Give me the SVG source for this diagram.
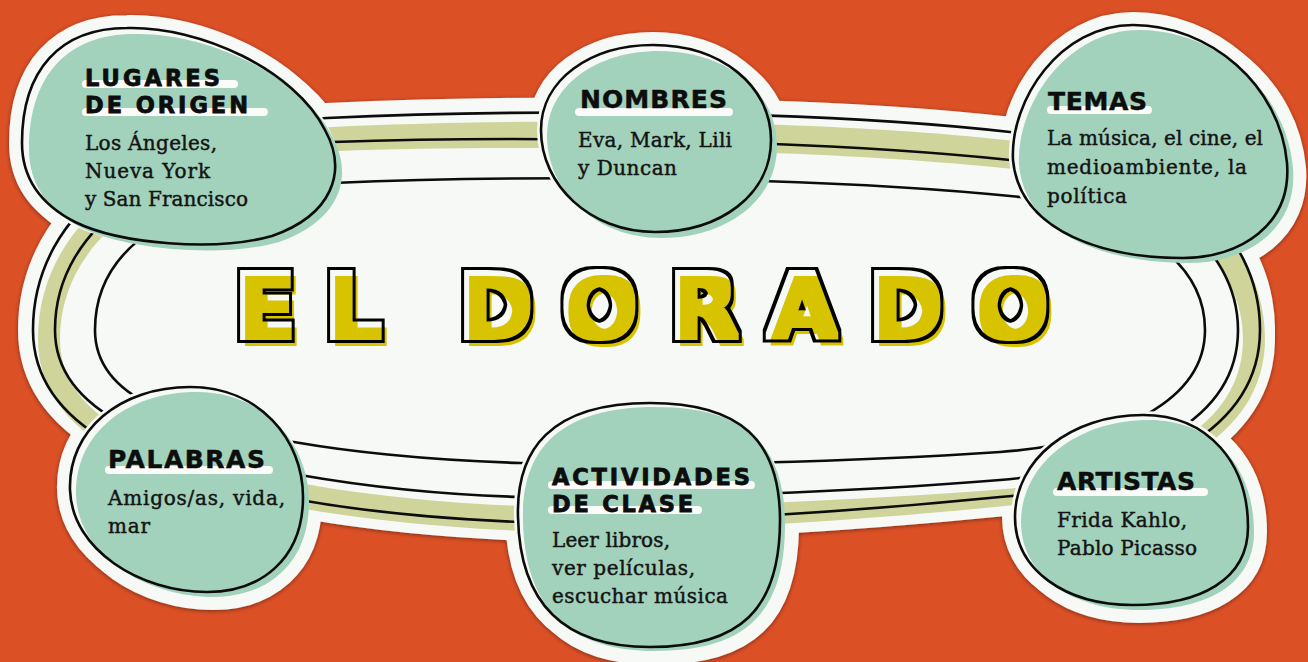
<svg xmlns="http://www.w3.org/2000/svg" width="1308" height="662" viewBox="0 0 1308 662">
<style>
.hdr{font-family:"DejaVu Sans",sans-serif;font-weight:bold;font-size:25px;fill:#0d0d0d;stroke:#0d0d0d;stroke-width:0.5}
.hdr2{font-size:22.5px;stroke-width:0.8}
.body{font-family:"DejaVu Serif",serif;font-size:20px;fill:#141414;stroke:#141414;stroke-width:0.45}
.bar{stroke:#fbfcfa;stroke-width:8;stroke-linecap:round;fill:none}
.green{fill:#A2D2BC}
.outl{fill:none;stroke:#0c0c0c;stroke-width:2.6}
.halo{fill:#F7F9F6;stroke:#F7F9F6;stroke-width:26;stroke-linejoin:round}
.halo2{fill:#F7F9F6;stroke:#F7F9F6;stroke-width:8}
.line{fill:none;stroke:#0c0c0c;stroke-width:2.6}
.title{font-family:"DejaVu Sans",sans-serif;font-weight:bold;font-size:88px;fill:#000}
</style>
<defs>
<path id="O1" d="M 33,330 C 33,210 150,125 327,118 C 500,110 800,108 1010,132 C 1170,150 1260,230 1260,330 C 1260,430 1150,485 1000,497 C 850,512 650,525 520,522 C 420,518 340,507 300,500 C 150,475 33,430 33,330 Z"/>
<path id="O2" d="M 55,330 C 55,225 165,150 333,142 C 500,136 800,138 1010,160 C 1150,175 1238,245 1238,330 C 1238,420 1140,468 1000,480 C 850,492 650,500 520,497 C 420,494 340,482 300,475 C 160,450 55,415 55,330 Z"/>
<path id="O3" d="M 95,330 C 95,245 180,190 333,183 C 500,176 800,174 1020,197 C 1130,210 1205,260 1205,330 C 1205,400 1120,443 1000,452 C 850,462 650,467 520,463 C 420,460 340,450 300,443 C 180,425 95,400 95,330 Z"/>
<path id="B1" d="M 22,143 C 22,70 60,28 127,28 C 200,26 295,70 325,130 C 348,172 332,215 272,236 C 215,252 120,244 75,222 C 40,204 22,178 22,143 Z"/>
<path id="B2" d="M 541,130 C 541,80 590,45 653,45 C 720,45 771,85 771,140 C 771,195 720,232 655,232 C 590,232 541,185 541,130 Z"/>
<path id="B3" d="M 1013,160 C 1010,100 1060,25 1133,25 C 1210,25 1280,85 1287,163 C 1292,225 1240,258 1183,258 C 1110,258 1020,235 1013,160 Z"/>
<path id="B4" d="M 70,490 C 68,430 120,387 190,387 C 260,387 303,440 303,497 C 303,560 260,592 207,592 C 140,592 72,550 70,490 Z"/>
<path id="B5" d="M 518,517 C 516,450 550,403 650,403 C 740,403 780,440 780,520 C 780,610 740,647 650,647 C 570,647 520,610 518,517 Z"/>
<path id="B6" d="M 1015,517 C 1015,460 1070,415 1143,415 C 1210,415 1248,465 1248,527 C 1248,580 1200,605 1133,605 C 1065,605 1015,570 1015,517 Z"/>
<filter id="sh" x="-5%" y="-5%" width="110%" height="110%">
<feDropShadow dx="0" dy="1" stdDeviation="2" flood-color="#000" flood-opacity="0.45"/>
</filter>
<filter id="tf" x="-5%" y="-30%" width="110%" height="160%" color-interpolation-filters="sRGB">
<feMorphology in="SourceAlpha" operator="dilate" radius="3" result="a"/>
<feMorphology in="SourceAlpha" operator="dilate" radius="6" result="b"/>
<feComposite in="b" in2="a" operator="out" result="ring"/>
<feFlood flood-color="#000"/>
<feComposite in2="ring" operator="in" result="bring"/>
<feOffset in="a" dx="5" dy="6" result="ao"/>
<feFlood flood-color="#D7C300"/>
<feComposite in2="ao" operator="in" result="yel"/>
<feMerge><feMergeNode in="yel"/><feMergeNode in="bring"/></feMerge>
</filter>
</defs>

<rect width="1308" height="662" fill="#DC5026"/>

<g id="base" filter="url(#sh)">
<use href="#O1" fill="#F7F9F6" stroke="#F7F9F6" stroke-width="30"/>
<use href="#O1" transform="translate(5,9)" fill="#F7F9F6" stroke="#F7F9F6" stroke-width="20"/>
<use href="#B1" class="halo"/><use href="#B1" class="halo" transform="translate(6,5)"/>
<use href="#B2" class="halo"/><use href="#B2" class="halo" transform="translate(6,5)"/>
<use href="#B3" class="halo"/><use href="#B3" class="halo" transform="translate(6,5)"/>
<use href="#B4" class="halo"/><use href="#B4" class="halo" transform="translate(6,5)"/>
<use href="#B5" class="halo"/><use href="#B5" class="halo" transform="translate(6,5)"/>
<use href="#B6" class="halo"/><use href="#B6" class="halo" transform="translate(6,5)"/>
</g>

<g id="connectors">
<path transform="translate(5,9)" fill="#CFD49A" fill-rule="evenodd" d="M 33,330 C 33,210 150,125 327,118 C 500,110 800,108 1010,132 C 1170,150 1260,230 1260,330 C 1260,430 1150,485 1000,497 C 850,512 650,525 520,522 C 420,518 340,507 300,500 C 150,475 33,430 33,330 Z M 55,330 C 55,225 165,150 333,142 C 500,136 800,138 1010,160 C 1150,175 1238,245 1238,330 C 1238,420 1140,468 1000,480 C 850,492 650,500 520,497 C 420,494 340,482 300,475 C 160,450 55,415 55,330 Z"/>
<use href="#O1" class="line"/>
<use href="#O2" class="line"/>
<use href="#O3" class="line"/>
</g>

<g id="title">
<text class="title" filter="url(#tf)" x="235 325 400 459 562 670 768 869 973" y="337">EL DORADO</text>
</g>

<g id="lugares">
<use href="#B1" class="halo2"/>
<use href="#B1" class="green" transform="translate(7,6)"/>
<use href="#B1" class="outl"/>
<line class="bar" x1="86" y1="84" x2="234" y2="84"/>
<line class="bar" x1="86" y1="112" x2="264" y2="112"/>
<text class="hdr hdr2"><tspan x="85" y="86" textLength="135">LUGARES</tspan><tspan x="85" y="112.5" textLength="163">DE ORIGEN</tspan></text>
<text class="body"><tspan x="85" y="150" textLength="132">Los Ángeles,</tspan><tspan x="85" y="178" textLength="125">Nueva York</tspan><tspan x="85" y="206" textLength="163">y San Francisco</tspan></text>
</g>

<g id="nombres">
<use href="#B2" class="halo2"/>
<use href="#B2" class="green" transform="translate(6,6)"/>
<use href="#B2" class="outl"/>
<line class="bar" x1="579" y1="112" x2="729" y2="112"/>
<text class="hdr" x="580" y="108" textLength="147">NOMBRES</text>
<text class="body"><tspan x="578" y="147" textLength="154">Eva, Mark, Lili</tspan><tspan x="578" y="175" textLength="99">y Duncan</tspan></text>
</g>

<g id="temas">
<use href="#B3" class="halo2"/>
<use href="#B3" class="green" transform="translate(6,5)"/>
<use href="#B3" class="outl"/>
<line class="bar" x1="1051" y1="110" x2="1148" y2="110"/>
<text class="hdr" x="1048" y="110" textLength="99">TEMAS</text>
<text class="body"><tspan x="1047" y="145" textLength="216">La música, el cine, el</tspan><tspan x="1047" y="174" textLength="200">medioambiente, la</tspan><tspan x="1047" y="203" textLength="80">política</tspan></text>
</g>

<g id="palabras">
<use href="#B4" class="halo2"/>
<use href="#B4" class="green" transform="translate(6,5)"/>
<use href="#B4" class="outl"/>
<line class="bar" x1="109" y1="470" x2="269" y2="470"/>
<text class="hdr" x="108" y="468" textLength="157">PALABRAS</text>
<text class="body"><tspan x="108" y="505" textLength="177">Amigos/as, vida,</tspan><tspan x="108" y="533" textLength="42">mar</tspan></text>
</g>

<g id="actividades">
<use href="#B5" class="halo2"/>
<use href="#B5" class="green" transform="translate(5,4)"/>
<use href="#B5" class="outl"/>
<line class="bar" x1="552" y1="485" x2="751" y2="485"/>
<line class="bar" x1="552" y1="510" x2="698" y2="510"/>
<text class="hdr hdr2"><tspan x="552" y="485" textLength="198">ACTIVIDADES</tspan><tspan x="552" y="511.5" textLength="141">DE CLASE</tspan></text>
<text class="body"><tspan x="552" y="547" textLength="118">Leer libros,</tspan><tspan x="552" y="575" textLength="143">ver películas,</tspan><tspan x="552" y="603" textLength="176">escuchar música</tspan></text>
</g>

<g id="artistas">
<use href="#B6" class="halo2"/>
<use href="#B6" class="green" transform="translate(6,5)"/>
<use href="#B6" class="outl"/>
<line class="bar" x1="1057" y1="492" x2="1204" y2="492"/>
<text class="hdr" x="1057" y="490" textLength="138">ARTISTAS</text>
<text class="body"><tspan x="1057" y="527" textLength="130">Frida Kahlo,</tspan><tspan x="1057" y="555" textLength="140">Pablo Picasso</tspan></text>
</g>
</svg>
